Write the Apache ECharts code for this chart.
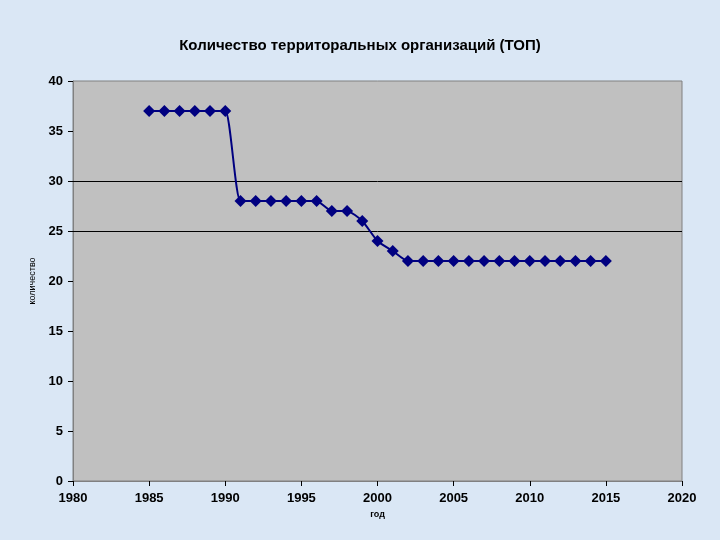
<!DOCTYPE html>
<html>
<head>
<meta charset="utf-8">
<script src="https://cdn.jsdelivr.net/npm/echarts@6/dist/echarts.min.js"></script>
<style>
  html, body { margin: 0; padding: 0; background: #dae7f5; }
  #chart { width: 720px; height: 540px; }
</style>
</head>
<body>
<div id="chart"></div>
<script>
const years = [1985, 1986, 1987, 1988, 1989, 1990, 1991, 1992, 1993, 1994, 1995, 1996, 1997, 1998, 1999, 2000,
  2001, 2002, 2003, 2004, 2005, 2006, 2007, 2008, 2009, 2010, 2011, 2012, 2013, 2014, 2015]
const counts = [37, 37, 37, 37, 37, 37, 28, 28, 28, 28, 28, 28, 27, 27, 26, 24,
  23, 22, 22, 22, 22, 22, 22, 22, 22, 22, 22, 22, 22, 22, 22]
const gridValues = [25, 30]

const chart = echarts.init(document.getElementById('chart'))

const labelStyle = { color: '#000', fontFamily: 'Arial', fontWeight: 'bold', fontSize: 13 }

chart.setOption({
  backgroundColor: '#dae7f5',
  title: {
    text: 'Количество территоральных организаций (ТОП)',
    left: 'center',
    top: 33,
    textStyle: { color: '#000', fontFamily: 'Arial', fontWeight: 'bold', fontSize: 15 },
  },
  grid: {
    left: 73, right: 38, top: 81, bottom: 59,
    show: true,
    backgroundColor: '#c0c0c0',
    borderColor: '#808080',
    borderWidth: 1,
  },
  xAxis: {
    type: 'value',
    min: 1980, max: 2020, interval: 5,
    name: 'год',
    nameLocation: 'middle',
    nameGap: 24,
    nameTextStyle: { color: '#000', fontFamily: 'Arial', fontWeight: 'bold', fontSize: 9 },
    axisLine: { show: true, lineStyle: { color: '#808080' } },
    axisTick: { show: true, length: 5, lineStyle: { color: '#000' } },
    axisLabel: { ...labelStyle, margin: 11, formatter: v => String(v) },
    splitLine: { show: false },
  },
  yAxis: {
    type: 'value',
    min: 0, max: 40, interval: 5,
    name: 'количество',
    nameLocation: 'middle',
    nameGap: 36,
    nameRotate: 90,
    nameTextStyle: { color: '#000', fontFamily: 'Arial', fontSize: 9 },
    axisLine: { show: true, lineStyle: { color: '#808080' } },
    axisTick: { show: true, length: 5, lineStyle: { color: '#000' } },
    axisLabel: { ...labelStyle, margin: 10 },
    splitLine: { show: false },
  },
  series: [{
    type: 'line',
    data: years.map((y, i) => [y, counts[i]]),
    smooth: 0.2,
    symbol: 'diamond',
    symbolSize: 12,
    lineStyle: { color: '#000080', width: 2 },
    itemStyle: { color: '#000080' },
    markLine: {
      silent: true,
      symbol: 'none',
      label: { show: false },
      lineStyle: { color: '#000', type: 'solid', width: 1 },
      data: gridValues.map(v => ({ yAxis: v })),
      z: 1,
    },
  }],
})
</script>
</body>
</html>
